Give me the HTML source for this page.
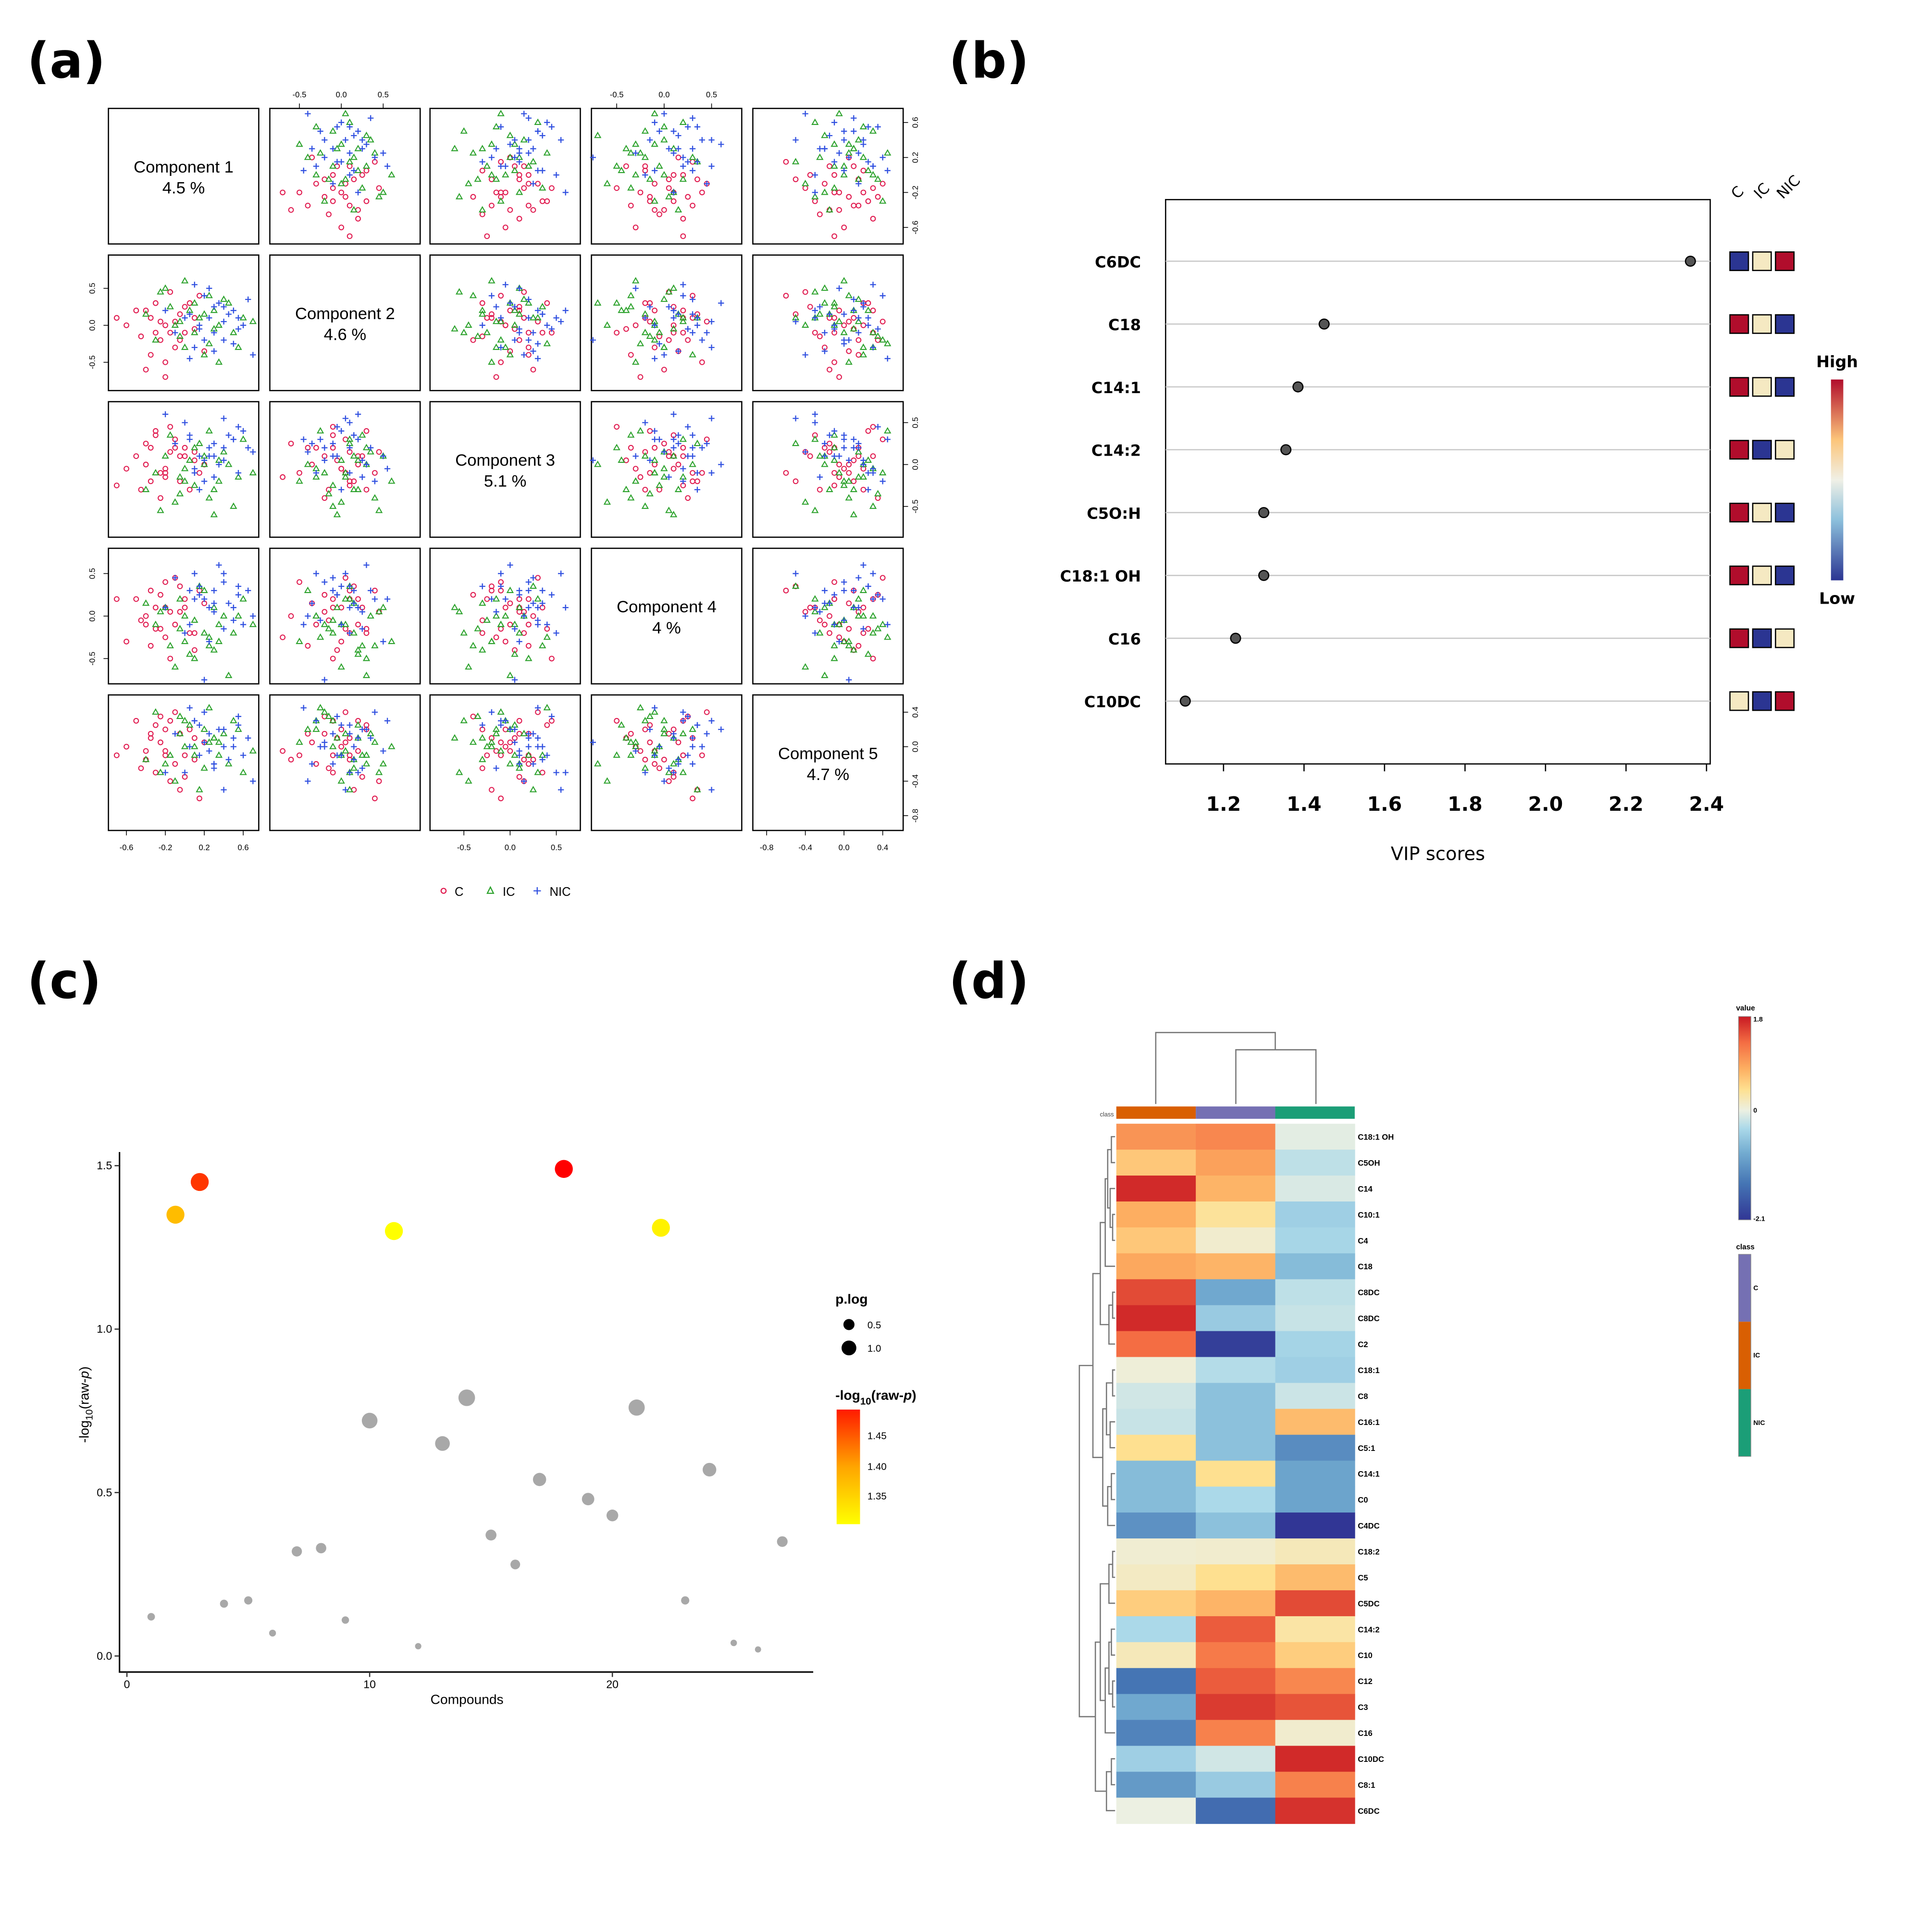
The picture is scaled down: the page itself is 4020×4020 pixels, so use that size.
<!DOCTYPE html>
<html><head><meta charset="utf-8"><style>
html,body{margin:0;padding:0;background:#fff}
svg{display:block;font-family:"Liberation Sans","DejaVu Sans",sans-serif}
</style></head><body>
<svg id="fig" width="4020" height="4020" viewBox="0 0 1568 1568" xmlns="http://www.w3.org/2000/svg">
<text x="22" y="63" font-size="40" font-weight="bold" font-family="DejaVu Sans">(a)</text>
<text x="770" y="63" font-size="40" font-weight="bold" font-family="DejaVu Sans">(b)</text>
<text x="22" y="810" font-size="40" font-weight="bold" font-family="DejaVu Sans">(c)</text>
<text x="770" y="810" font-size="40" font-weight="bold" font-family="DejaVu Sans">(d)</text>
<g id="pa"></g>
<g id="pb"></g>
<g id="pc"></g>
<g id="pd"></g>
</svg>
<script>
// ---------- Panel (a) data: component scores ----------
const scoresC = [[-0.35,0.1,-0.2,0.3,0.1],[-0.1,-0.3,0.2,-0.1,-0.2],[-0.5,0.2,0.1,0.2,0.3],[-0.2,-0.5,-0.1,0.4,-0.1],[0.05,0.3,-0.3,-0.2,0.2],[-0.3,-0.1,0.35,0.1,-0.3],[-0.6,0.0,-0.05,-0.3,0.0],[-0.15,0.45,0.15,0.05,-0.4],[-0.25,-0.2,-0.4,0.25,0.35],[0.1,-0.05,0.05,-0.4,0.1],[-0.4,-0.6,0.25,0.0,-0.15],[-0.05,0.15,-0.2,0.35,-0.5],[-0.3,0.3,0.4,-0.15,0.25],[0.2,-0.35,0.0,0.15,0.05],[-0.45,-0.15,-0.3,-0.05,-0.25],[-0.1,0.05,0.3,0.45,0.4],[-0.2,-0.7,-0.15,-0.25,-0.05],[0.0,0.25,0.1,0.1,-0.35],[-0.35,-0.4,0.2,-0.35,0.15],[-0.7,0.1,-0.25,0.2,-0.1],[-0.15,-0.1,0.45,-0.5,0.3],[0.15,0.4,-0.1,0.3,-0.6],[-0.05,-0.2,0.1,0.05,0.15],[-0.25,0.05,-0.1,-0.15,0.05],[0.0,-0.1,0.2,0.2,-0.1],[-0.4,0.2,0.0,-0.1,-0.05],[-0.2,0.0,-0.05,0.1,0.2],[0.1,0.1,0.15,-0.2,-0.15]];
const scoresIC = [[0.3,0.2,-0.3,-0.4,0.1],[-0.2,0.5,0.1,0.1,-0.2],[0.5,-0.1,-0.5,-0.2,0.3],[0.1,0.3,0.2,-0.5,-0.1],[-0.3,-0.2,-0.1,-0.1,0.4],[0.6,0.1,0.3,0.2,-0.3],[0.0,0.6,-0.2,-0.3,0.0],[0.2,-0.4,0.0,0.3,0.2],[-0.1,0.0,-0.45,-0.6,-0.4],[0.4,0.35,0.15,0.0,0.15],[-0.4,0.15,-0.3,0.15,-0.15],[0.25,-0.25,0.4,-0.25,0.45],[0.7,0.05,-0.1,-0.1,-0.05],[0.05,0.2,0.05,-0.45,0.25],[-0.25,0.45,-0.55,0.05,-0.3],[0.35,-0.5,-0.2,-0.3,0.05],[0.15,0.1,0.25,0.35,-0.5],[-0.05,-0.15,-0.35,-0.15,0.35],[0.45,0.3,0.0,-0.7,-0.2],[0.3,-0.05,-0.6,0.1,0.1],[-0.15,0.25,0.35,-0.35,-0.1],[0.55,-0.3,-0.15,0.0,0.2],[0.1,-0.1,-0.25,-0.05,0.0],[0.2,0.15,0.1,-0.2,-0.25],[-0.05,0.05,-0.15,0.2,0.15],[0.35,0.0,0.05,-0.1,-0.1],[0.0,-0.3,-0.05,0.0,0.3],[0.25,0.4,-0.4,-0.35,0.05]];
const scoresNIC = [[0.3,-0.1,0.1,0.3,-0.2],[0.5,0.2,0.3,0.1,0.1],[0.1,-0.3,-0.1,0.5,0.3],[0.6,0.0,0.4,-0.1,-0.1],[0.2,0.4,-0.2,0.2,0.4],[0.4,-0.2,0.2,0.4,0.0],[0.0,0.1,0.5,-0.2,-0.3],[0.35,0.3,0.0,0.6,0.2],[0.7,-0.4,0.15,0.0,-0.4],[0.15,0.0,-0.3,0.35,0.25],[0.45,0.15,0.35,0.15,-0.15],[-0.1,-0.1,0.25,0.45,0.15],[0.25,0.5,0.1,-0.3,-0.05],[0.55,-0.05,0.45,0.25,0.35],[0.3,0.25,-0.15,0.05,-0.25],[0.05,-0.45,0.3,-0.1,0.45],[0.4,0.05,0.55,0.5,-0.5],[0.2,-0.2,0.05,-0.75,0.05],[0.65,0.35,0.2,0.3,0.1],[-0.2,0.2,0.6,0.1,-0.3],[0.1,0.55,-0.05,0.2,0.3],[0.5,-0.25,0.3,-0.05,0.0],[0.25,0.1,0.2,0.1,0.15],[0.15,-0.05,0.1,0.25,-0.1],[0.4,0.25,0.05,-0.15,0.2],[0.05,0.15,0.35,0.3,0.0],[0.3,-0.35,0.25,0.15,-0.2],[0.55,0.1,-0.1,0.35,0.25]];
const componentNames = ["Component 1","Component 2","Component 3","Component 4","Component 5"];
const componentPct = ["4.5 %","4.6 %","5.1 %","4 %","4.7 %"];
// ---------- Panel (b) data ----------
const vipNames = ["C6DC","C18","C14:1","C14:2","C5O:H","C18:1 OH","C16","C10DC"];
const vipScores = [2.36,1.45,1.385,1.355,1.30,1.30,1.23,1.105];
const vipLevels = [[0,1,2],[2,1,0],[2,1,0],[2,0,1],[2,1,0],[2,1,0],[2,0,1],[1,0,2]];
const vipTicks = [1.2,1.4,1.6,1.8,2.0,2.2,2.4];
// ---------- Panel (c) data ----------
const compoundIdx = [1,2,3,4,5,6,7,8,9,10,11,12,13,14,15,16,17,18,19,20,21,22,23,24,25,26,27];
const negLogP = [0.12,1.35,1.45,0.16,0.17,0.07,0.32,0.33,0.11,0.72,1.30,0.03,0.65,0.79,0.37,0.28,0.54,1.49,0.48,0.43,0.76,1.31,0.17,0.57,0.04,0.02,0.35];
const cXTicks = [0,10,20];
const cYTicks = [0.0,0.5,1.0,1.5];
// ---------- Panel (d) data ----------
const hmRows = ["C18:1 OH","C5OH","C14","C10:1","C4","C18","C8DC","C8DC","C2","C18:1","C8","C16:1","C5:1","C14:1","C0","C4DC","C18:2","C5","C5DC","C14:2","C10","C12","C3","C16","C10DC","C8:1","C6DC"];
const hmIC = [1.0,0.6,1.7,0.8,0.6,0.85,1.5,1.7,1.3,0.05,-0.15,-0.2,0.4,-0.65,-0.65,-1.1,0.08,0.15,0.55,-0.35,0.2,-1.4,-0.85,-1.25,-0.45,-1.0,0.0];
const hmC = [1.1,0.9,0.75,0.35,0.1,0.75,-0.85,-0.5,-2.0,-0.3,-0.6,-0.6,-0.6,0.4,-0.35,-0.6,0.1,0.4,0.75,1.4,1.2,1.4,1.6,1.15,-0.15,-0.5,-1.5];
const hmNIC = [-0.05,-0.25,-0.1,-0.45,-0.38,-0.65,-0.25,-0.2,-0.4,-0.45,-0.18,0.7,-1.15,-0.9,-0.9,-2.1,0.2,0.7,1.5,0.3,0.55,1.1,1.45,0.1,1.7,1.15,1.65];

const NS="http://www.w3.org/2000/svg";
function mk(tag,attrs,parent){const e=document.createElementNS(NS,tag);for(const k in attrs)e.setAttribute(k,attrs[k]);parent.appendChild(e);return e;}
function txt(s,attrs,parent){const e=mk('text',attrs,parent);e.textContent=s;return e;}

// ===== Panel A =====
const pa=document.getElementById('pa');
const cellX=[88,219,349,480,611], cellY=[88,207,326,445,564], cw=122, ch=110;
const colMap=[[150,79],[277,68],[414,75],[539,77],[685,78.5]];
const rowMap=[[142,71],[264,60],[377,68],[500,69],[606,70]];
function sxA(j,v){return colMap[j][0]+v*colMap[j][1];}
function syA(i,v){return rowMap[i][0]-v*rowMap[i][1];}
const classes=[[scoresC,'#e0194e','circle'],[scoresIC,'#2aa12a','tri'],[scoresNIC,'#3050e0','plus']];
for(let i=0;i<5;i++)for(let j=0;j<5;j++){
  let r=mk('rect',{x:cellX[j],y:cellY[i],width:cw,height:ch,fill:'none',stroke:'#000','stroke-width':1},pa);
  
  
  if(i===j){
    let t=txt(componentNames[i],{x:cellX[j]+cw/2,y:cellY[i]+ch/2-3,'font-size':13.5,'text-anchor':'middle'},pa);
    
    
    let t2=txt(componentPct[i],{x:cellX[j]+cw/2,y:cellY[i]+ch/2+14,'font-size':13.5,'text-anchor':'middle'},pa);
    
    
    continue;
  }
  for(const [data,col,shape] of classes){
    for(const p of data){
      const x=sxA(j,p[j]), y=syA(i,p[i]);
      let m;
      if(shape==='circle') m=mk('circle',{cx:x,cy:y,r:1.9,fill:'none',stroke:col,'stroke-width':0.8},pa);
      else if(shape==='tri') m=mk('path',{d:`M${x},${y-2.4}L${x+2.3},${y+1.6}L${x-2.3},${y+1.6}Z`,fill:'none',stroke:col,'stroke-width':0.8},pa);
      else m=mk('path',{d:`M${x-2.4},${y}H${x+2.4}M${x},${y-2.4}V${y+2.4}`,stroke:col,'stroke-width':0.9},pa);
      
      
    }
  }
}
function tickSet(vals,side,idx){
  vals.forEach(v=>{
    let e,t;
    if(side==='top'){const x=sxA(idx,v);e=mk('line',{x1:x,x2:x,y1:cellY[0],y2:cellY[0]-4,stroke:'#000','stroke-width':0.6},pa);t=txt(v.toFixed(1),{x:x,y:cellY[0]-9,'font-size':6.5,'text-anchor':'middle'},pa);}
    else if(side==='bottom'){const x=sxA(idx,v);e=mk('line',{x1:x,x2:x,y1:674,y2:678,stroke:'#000','stroke-width':0.6},pa);t=txt(v.toFixed(1),{x:x,y:690,'font-size':6.5,'text-anchor':'middle'},pa);}
    else if(side==='right'){const y=syA(idx,v);e=mk('line',{x1:733,x2:737,y1:y,y2:y,stroke:'#000','stroke-width':0.6},pa);t=txt(v.toFixed(1),{x:745,y:y,'font-size':6.5,'text-anchor':'middle',transform:`rotate(-90 745 ${y})`},pa);}
    else {const y=syA(idx,v);e=mk('line',{x1:88,x2:84,y1:y,y2:y,stroke:'#000','stroke-width':0.6},pa);t=txt(v.toFixed(1),{x:77,y:y,'font-size':6.5,'text-anchor':'middle',transform:`rotate(-90 77 ${y})`},pa);}
    
    
    
    
  });
}
tickSet([-0.5,0,0.5],'top',1);tickSet([-0.5,0,0.5],'top',3);
tickSet([-0.6,-0.2,0.2,0.6],'bottom',0);tickSet([-0.5,0,0.5],'bottom',2);tickSet([-0.8,-0.4,0,0.4],'bottom',4);
tickSet([-0.6,-0.2,0.2,0.6],'right',0);tickSet([-0.5,0,0.5],'right',2);tickSet([-0.8,-0.4,0,0.4],'right',4);
tickSet([-0.5,0,0.5],'left',1);tickSet([-0.5,0,0.5],'left',3);
(function(){
  let c=mk('circle',{cx:360,cy:723,r:2,fill:'none',stroke:'#e0194e','stroke-width':0.9},pa);
  
  let t=txt('C',{x:369,y:727,'font-size':10},pa);
  let tr=mk('path',{d:'M398,720L400.5,725L395.5,725Z',fill:'none',stroke:'#2aa12a','stroke-width':0.9},pa);
  
  let t2=txt('IC',{x:408,y:727,'font-size':10},pa);
  let pl=mk('path',{d:'M433,723H439M436,720V726',stroke:'#3050e0','stroke-width':0.9},pa);
  
  let t3=txt('NIC',{x:446,y:727,'font-size':10},pa);
})();

// ===== Panel B =====
const pb=document.getElementById('pb');
const bx0=993, bsc=(1385-993)/1.2;
function xB(v){return bx0+(v-1.2)*bsc;}
function yB(i){return 212+i*51;}
let frame=mk('rect',{x:946,y:162,width:442,height:458,fill:'none',stroke:'#000','stroke-width':1},pb);

const lvlCol=['#2b3592','#f5e9c2','#b10d2c'];
vipNames.forEach((n,i)=>{
  const y=yB(i);
  let g=mk('line',{x1:946,x2:1388,y1:y,y2:y,stroke:'#c8c8c8','stroke-width':1},pb);
  
  let t=txt(n,{x:926,y:y+5,'font-size':12.5,'font-weight':'bold','text-anchor':'end','font-family':'DejaVu Sans'},pb);
  
  let d=mk('circle',{cx:xB(vipScores[i]),cy:y,r:4,fill:'#555',stroke:'#000','stroke-width':1},pb);
  
  vipLevels[i].forEach((l,k)=>{
    let s=mk('rect',{x:1404+k*18.5,y:y-7.5,width:15,height:15,fill:lvlCol[l],stroke:'#000','stroke-width':1},pb);
    
  });
});
vipTicks.forEach(v=>{
  let tk=mk('line',{x1:xB(v),x2:xB(v),y1:620,y2:626,stroke:'#000','stroke-width':1},pb);
  
  let t=txt(v.toFixed(1),{x:xB(v),y:658,'font-size':16,'font-weight':'bold','text-anchor':'middle','font-family':'DejaVu Sans'},pb);
  
});
let xt=txt('VIP scores',{x:1167,y:698,'font-size':15,'text-anchor':'middle','font-family':'DejaVu Sans'},pb);

['C','IC','NIC'].forEach((s,k)=>{
  const x=1410+k*18.5;
  let t=txt(s,{x:x,y:162,'font-size':12,transform:`rotate(-45 ${x} 162)`,'font-family':'DejaVu Sans'},pb);
  
});
let defs=mk('defs',{},document.getElementById('fig'));
let lg=mk('linearGradient',{id:'vipg',x1:0,y1:1,x2:0,y2:0},defs);
[['0','#2b3592'],['0.3','#8cc0dc'],['0.5','#f0f0e6'],['0.7','#fcc57a'],['1','#b10d2c']].forEach(([o,c])=>mk('stop',{offset:o,'stop-color':c},lg));
let gb=mk('rect',{x:1486,y:308,width:10,height:163,fill:'url(#vipg)'},pb);

let hi=txt('High',{x:1491,y:298,'font-size':13,'font-weight':'bold','text-anchor':'middle','font-family':'DejaVu Sans'},pb);

let lo=txt('Low',{x:1491,y:490,'font-size':13,'font-weight':'bold','text-anchor':'middle','font-family':'DejaVu Sans'},pb);


// ===== Panel C =====
const pc=document.getElementById('pc');
function xC(v){return 103+v*19.7;}
function yC(v){return 1344-v*265.3;}
function colC(v){
  const t=Math.max(0,Math.min(1,(v-1.30)/0.19));
  const g=Math.round(255-t*255);return `rgb(255,${g},0)`;
}
let ax=mk('path',{d:'M97,935V1357H660',fill:'none',stroke:'#000','stroke-width':1.2},pc);

cXTicks.forEach(v=>{
  let tk=mk('line',{x1:xC(v),x2:xC(v),y1:1357,y2:1361,stroke:'#333','stroke-width':1},pc);
  
  let t=txt(String(v),{x:xC(v),y:1370,'font-size':9,'text-anchor':'middle'},pc);
  
});
cYTicks.forEach(v=>{
  let tk=mk('line',{x1:93,x2:97,y1:yC(v),y2:yC(v),stroke:'#333','stroke-width':1},pc);
  
  let t=txt(v.toFixed(1),{x:91,y:yC(v)+3,'font-size':9,'text-anchor':'end'},pc);
  
});
compoundIdx.forEach((c,i)=>{
  const v=negLogP[i];
  const big=v>1.25;
  let p=mk('circle',{cx:xC(c),cy:yC(v),r:big?7.3:2.4+v*5.5,fill:big?colC(v):'#a8a8a8'},pc);
  
});
let cxl=txt('Compounds',{x:379,y:1383,'font-size':11,'text-anchor':'middle'},pc);

let cyl=mk('text',{x:72,y:1140,'font-size':11,'text-anchor':'middle',transform:'rotate(-90 72 1140)'},pc);
cyl.innerHTML='-log<tspan font-size="8" dy="3">10</tspan><tspan dy="-3">(raw-</tspan><tspan font-style="italic">p</tspan>)';

let pl=txt('p.log',{x:678,y:1058,'font-size':11,'font-weight':'bold'},pc);

[[0.5,1075,4.5],[1.0,1094,6]].forEach(([v,y,r])=>{
  let c=mk('circle',{cx:689,cy:y,r:r,fill:'#000'},pc);
  
  let t=txt(v.toFixed(1),{x:704,y:y+3,'font-size':8},pc);
  
});
let cl=mk('text',{x:678,y:1136,'font-size':11,'font-weight':'bold'},pc);
cl.innerHTML='-log<tspan font-size="8" dy="4">10</tspan><tspan dy="-4">(raw-</tspan><tspan font-style="italic">p</tspan>)';

let lg2=mk('linearGradient',{id:'cg',x1:0,y1:1,x2:0,y2:0},defs);
[['0','#ffff00'],['0.5','#ffa500'],['1','#ff1a00']].forEach(([o,c])=>mk('stop',{offset:o,'stop-color':c},lg2));
let cb=mk('rect',{x:679,y:1144,width:19,height:93,fill:'url(#cg)'},pc);

[[1.45,1165],[1.40,1190],[1.35,1214]].forEach(([v,y])=>{
  let t=txt(v.toFixed(2),{x:704,y:y+3,'font-size':8},pc);
  
});

// ===== Panel D =====
const pd=document.getElementById('pd');
const stops=[[-2.1,[49,54,149]],[-1.4,[69,117,180]],[-0.8,[116,173,209]],[-0.35,[171,217,233]],[0,[236,240,226]],[0.4,[254,224,144]],[0.8,[253,174,97]],[1.3,[244,109,67]],[1.8,[200,25,35]]];
function hcol(v){
  v=Math.max(-2.1,Math.min(1.8,v));
  for(let k=0;k<stops.length-1;k++){const [a,ca]=stops[k],[b,cb2]=stops[k+1];if(v<=b){const t=(v-a)/(b-a);return `rgb(${ca.map((c,i)=>Math.round(c+t*(cb2[i]-c))).join(',')})`;}}
  return 'rgb(200,25,35)';
}
const hx=[906,970.5,1035], hw=64.5, hy0=912, rh=(1480-912)/27;
const classCols=['#d95f02','#7570b3','#1b9e77'];
classCols.forEach((c,k)=>{
  let r=mk('rect',{x:hx[k],y:898,width:hw,height:10,fill:c},pd);
  
});
let ctl=txt('class',{x:904,y:906,'font-size':5,'text-anchor':'end',fill:'#444'},pd);

const cols=[hmIC,hmC,hmNIC];
hmRows.forEach((n,i)=>{
  cols.forEach((arr,k)=>{
    let r=mk('rect',{x:hx[k],y:hy0+i*rh,width:hw+0.3,height:rh+0.3,fill:hcol(arr[i])},pd);
    
  });
  let t=txt(n,{x:1102,y:hy0+(i+0.5)*rh+2.5,'font-size':6.5,'font-weight':'bold'},pd);
  
});
let cd=mk('path',{d:'M938,896V838H1035V852M1003,896V852H1068V896',fill:'none',stroke:'#777','stroke-width':1},pd);

const merges=[[0,1,902],[3,4,903],[2,28,901],[27,29,899],[5,30,897],[6,7,903],[8,32,900],[31,33,893],[9,10,903],[11,12,901],[35,36,898],[13,14,902],[38,15,899],[37,39,895],[34,40,887],[16,17,903],[18,42,900],[19,20,902],[21,22,903],[44,45,900],[23,46,897],[43,47,893],[24,25,902],[49,26,898],[48,50,889],[41,51,876]];
const nodeY=[],nodeX=[];
for(let i=0;i<27;i++){nodeY[i]=hy0+(i+0.5)*rh;nodeX[i]=905;}
let dpath='';
merges.forEach((m,k)=>{
  const [a,b,h]=m, id=27+k;
  dpath+=`M${nodeX[a]},${nodeY[a]}H${h}V${nodeY[b]}H${nodeX[b]}`;
  nodeX[id]=h;nodeY[id]=(nodeY[a]+nodeY[b])/2;
});
let rd=mk('path',{d:dpath,fill:'none',stroke:'#777','stroke-width':1},pd);

let lg3=mk('linearGradient',{id:'hg',x1:0,y1:1,x2:0,y2:0},defs);
stops.forEach(([v,c])=>mk('stop',{offset:((v+2.1)/3.9).toFixed(3),'stop-color':`rgb(${c.join(',')})`},lg3));
let vt=txt('value',{x:1409,y:820,'font-size':6,'font-weight':'bold'},pd);

let vb=mk('rect',{x:1411,y:825,width:10,height:165,fill:'url(#hg)',stroke:'#888','stroke-width':0.5},pd);

[['1.8',829],['0',903],['-2.1',991]].forEach(([s,y])=>{
  let t=txt(s,{x:1423,y:y,'font-size':5.5,'font-weight':'bold'},pd);
  
});
let ct=txt('class',{x:1409,y:1014,'font-size':6,'font-weight':'bold'},pd);

[['#7570b3','C'],['#d95f02','IC'],['#1b9e77','NIC']].forEach(([c,s],k)=>{
  let r=mk('rect',{x:1411,y:1018+k*54.7,width:10,height:54.7,fill:c},pd);
  
  let t=txt(s,{x:1423,y:1018+k*54.7+29,'font-size':5.5,'font-weight':'bold'},pd);
  
});
let cbo=mk('rect',{x:1411,y:1018,width:10,height:164,fill:'none',stroke:'#888','stroke-width':0.5},pd);

</script>
</body></html>
